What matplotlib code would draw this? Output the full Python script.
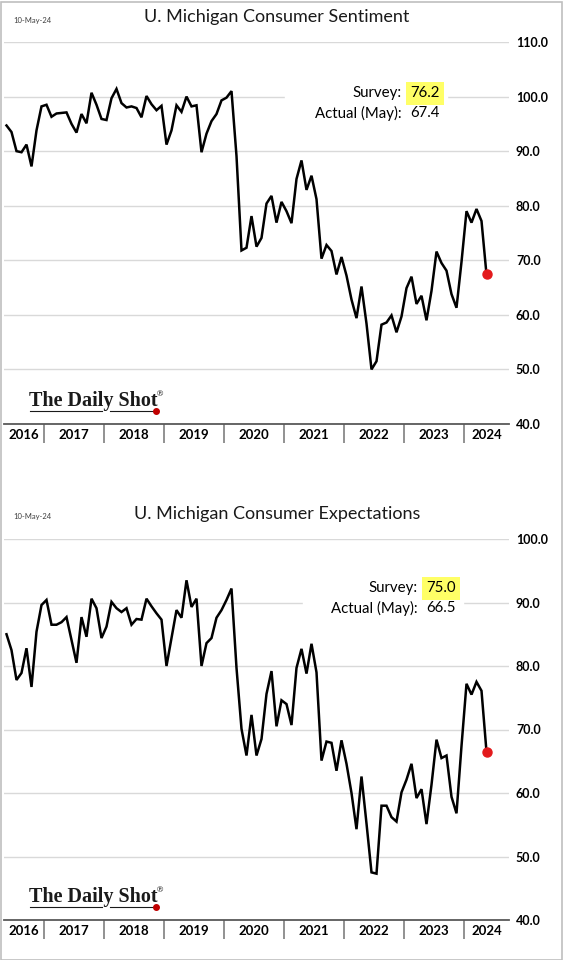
import numpy as np
import pandas as pd
import matplotlib
matplotlib.use("Agg")
import matplotlib.pyplot as plt
from matplotlib.patches import Rectangle
from matplotlib.lines import Line2D

# UMich, monthly, May 2016 .. May 2024
start_month = "2016-05"
sentiment = [
    94.7, 93.5, 90.0, 89.8, 91.2, 87.2, 93.8, 98.2,                          # 2016
    98.5, 96.3, 96.9, 97.0, 97.1, 95.0, 93.4, 96.8, 95.1, 100.7, 98.5, 95.9,  # 2017
    95.7, 99.7, 101.4, 98.8, 98.0, 98.2, 97.9, 96.2, 100.1, 98.6, 97.5, 98.3, # 2018
    91.2, 93.8, 98.4, 97.2, 100.0, 98.2, 98.4, 89.8, 93.2, 95.5, 96.8, 99.3,  # 2019
    99.8, 101.0, 89.1, 71.8, 72.3, 78.1, 72.5, 74.1, 80.4, 81.8, 76.9, 80.7,  # 2020
    79.0, 76.8, 84.9, 88.3, 82.9, 85.5, 81.2, 70.3, 72.8, 71.7, 67.4, 70.6,   # 2021
    67.2, 62.8, 59.4, 65.2, 58.4, 50.0, 51.5, 58.2, 58.6, 59.9, 56.8, 59.7,   # 2022
    64.9, 67.0, 62.0, 63.5, 59.0, 64.4, 71.6, 69.5, 68.1, 63.8, 61.3, 69.7,   # 2023
    79.0, 76.9, 79.4, 77.2, 67.4,                                             # 2024
]
expectations = [
    85.0, 82.5, 77.8, 78.9, 82.8, 76.7, 85.4, 89.6,
    90.4, 86.5, 86.5, 86.9, 87.7, 84.1, 80.5, 87.7, 84.6, 90.6, 89.1, 84.4,
    86.2, 90.1, 89.1, 88.5, 89.1, 86.5, 87.4, 87.3, 90.6, 89.4, 88.3, 87.3,
    80.0, 84.4, 88.8, 87.6, 93.5, 89.3, 90.6, 80.0, 83.6, 84.4, 87.6, 88.8,
    90.4, 92.2, 79.7, 70.1, 65.9, 72.3, 65.9, 68.5, 75.6, 79.2, 70.5, 74.6,
    74.0, 70.7, 79.7, 82.7, 78.8, 83.5, 79.0, 65.1, 68.1, 67.9, 63.5, 68.3,
    64.6, 60.0, 54.3, 62.6, 55.2, 47.5, 47.3, 58.0, 58.0, 56.2, 55.5, 60.1,
    62.1, 64.6, 59.2, 60.6, 55.1, 61.3, 68.4, 65.5, 65.9, 59.4, 56.8, 67.4,
    77.2, 75.5, 77.5, 76.1, 66.5,
]

titles = ["U. Michigan Consumer Sentiment", "U. Michigan Consumer Expectations"]
survey = ["76.2", "75.0"]
actual = ["67.4", "66.5"]
ylims = [(40, 110), (40, 100)]

months = pd.period_range(start_month, periods=len(sentiment), freq="M")
x = np.arange(len(months))
xlim = (-0.5, 100.5)

W, H = 564, 960
fig = plt.figure(figsize=(W / 100, H / 100), dpi=100)
plt.rcParams['font.family'] = ['Lato', 'DejaVu Sans']


def fx(px):
    return px / W


def fy(py):
    return 1 - py / H


# light frame round the whole picture
fig.patches.append(Rectangle((0.5 / W, 0.5 / H), 1 - 2.5 / W, 1 - 2.5 / H,
                             transform=fig.transFigure, fill=False,
                             edgecolor="#bfbfbf", lw=1.2))

panels = [
    dict(top=42, bottom=424, title_y=17, date_y=20, ann_y=93, ann_x=402,
         box=(285, 447, 80, 122), logo_y=401),
    dict(top=539, bottom=920, title_y=514, date_y=516, ann_y=588, ann_x=418,
         box=(303, 463, 575, 617), logo_y=897),
]
series = [sentiment, expectations]

for k, p in enumerate(panels):
    ax = fig.add_axes([fx(4), fy(p["bottom"]), fx(505),
                       (p["bottom"] - p["top"]) / H])
    y = series[k]
    ax.plot(x, y, color="black", lw=1.8, zorder=3, solid_joinstyle="miter")
    ax.plot(x[-1], y[-1], "o", color="#e31a1c", ms=6.5, zorder=4)
    ax.set_xlim(*xlim)
    ax.set_ylim(*ylims[k])
    lo, hi = ylims[k]
    ax.set_yticks(np.arange(lo, hi + 1, 10))
    ax.yaxis.set_major_formatter(plt.FuncFormatter(lambda v, _: f"{v:.1f}"))
    ax.yaxis.tick_right()
    ax.tick_params(axis="y", length=0, pad=5, labelsize=9)
    for t in ax.get_yticklabels():
        t.set_fontweight("bold")
    ax.grid(axis="y", color="#d9d9d9", lw=1)
    ax.set_axisbelow(True)
    for s in ["top", "left", "right"]:
        ax.spines[s].set_visible(False)
    ax.spines["bottom"].set_color("#595959")
    ax.spines["bottom"].set_linewidth(1.3)
    ax.spines["bottom"].set_zorder(5)

    # year separators and centred year labels
    bounds = [i - 0.5 for i, m in enumerate(months) if m.month == 1]
    edges = [xlim[0]] + bounds + [xlim[1]]
    centres = [(a + b) / 2 for a, b in zip(edges[:-1], edges[1:])]
    years = [months[0].year + j for j in range(len(centres))]
    ax.set_xticks(bounds, minor=True)
    ax.tick_params(axis="x", which="minor", length=14, width=1.2,
                   color="#7f7f7f", direction="out")
    ax.set_xticks(centres)
    ax.set_xticklabels([str(v) for v in years], fontweight="bold", fontsize=9.5)
    ax.tick_params(axis="x", which="major", length=0, pad=3.5)

    # title and date
    fig.text(fx(277), fy(p["title_y"]), titles[k], ha="center", va="center",
             fontsize=13, color="#1a1a1a")
    fig.text(fx(13), fy(p["date_y"]), "10-May-24", ha="left", va="center",
             fontsize=5.5, color="#404040")

    # survey / actual box
    x0, x1, y0, y1 = p["box"]
    fig.patches.append(Rectangle((fx(x0), fy(y1)), fx(x1 - x0), (y1 - y0) / H,
                                 transform=fig.transFigure, color="white",
                                 zorder=2))
    ay = p["ann_y"]
    ax_ = p["ann_x"]
    fig.text(fx(ax_), fy(ay), "Survey:", ha="right", va="center",
             fontsize=10.8, zorder=6)
    fig.text(fx(ax_ + 8), fy(ay), survey[k], ha="left", va="center",
             fontsize=10.8, zorder=6,
             bbox=dict(boxstyle="square,pad=0.3", fc="#ffff66", ec="none"))
    fig.text(fx(ax_), fy(ay + 20), "Actual (May):", ha="right", va="center",
             fontsize=10.8, zorder=6)
    fig.text(fx(ax_ + 8), fy(ay + 20), actual[k], ha="left", va="center",
             fontsize=10.8, zorder=6)

    # The Daily Shot logo
    ly = p["logo_y"]
    fig.text(fx(29), fy(ly), "The Daily Shot", ha="left", va="center",
             fontsize=14.5, family="Liberation Serif", fontweight="bold",
             color="#1a1a1a")
    fig.text(fx(156), fy(ly - 7), "®", ha="left", va="center", fontsize=6,
             family="DejaVu Serif", color="#1a1a1a")
    for a, b in [(30, 102), (110, 155)]:
        fig.add_artist(Line2D([fx(a), fx(b)], [fy(ly + 10), fy(ly + 10)],
                              transform=fig.transFigure, color="#1a1a1a",
                              lw=0.8))
    fig.add_artist(Line2D([fx(156)], [fy(ly + 10)], transform=fig.transFigure,
                          marker="o", ms=4, color="#c00000"))

fig.savefig("out.png", dpi=100)
